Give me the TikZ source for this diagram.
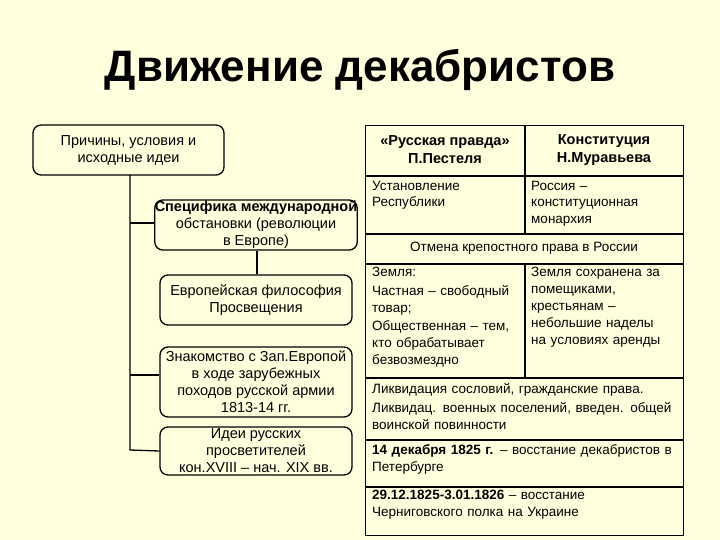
\documentclass[tikz,border=0pt]{standalone}
\usepackage{fontspec}
\setmainfont{Liberation Sans}
\definecolor{bg}{RGB}{255,255,221}
\begin{document}
\begin{tikzpicture}[x=1pt,y=-1pt,
  rbox/.style={draw,line width=1.3pt,rounded corners=8pt,fill=bg,align=center,inner sep=0pt,font=\fontsize{14.5}{17}\selectfont},
  cell/.style={align=left,anchor=north west,inner sep=0pt,font=\fontsize{13.5}{16.5}\selectfont,text width=#1},
  ln/.style={line width=1.3pt}]
\fill[bg] (0,0) rectangle (720,540);
\useasboundingbox (0,0) rectangle (720,540);
\node (title) at (360,70) {\fontsize{44}{50}\selectfont\bfseries Движение декабристов};
% left tree
\node[rbox,minimum width=191pt,minimum height=50pt] (c) at (128.5,150) {Причины, условия и\\исходные идеи};
\node[rbox,minimum width=192pt,minimum height=50pt] (b2) at (256,225) {\textbf{Специфика международной}\\обстановки (революции\\в Европе)};
\node[rbox,minimum width=192pt,minimum height=50pt] (b3) at (256,300) {Европейская философия\\Просвещения};
\node[rbox,minimum width=192pt,minimum height=70pt] (b4) at (256,382) {Знакомство с Зап.Европой\\в ходе зарубежных\\походов русской армии\\1813-14 гг.};
\node[rbox,minimum width=192pt,minimum height=48pt] (b5) at (256,451) {Идеи русских\\просветителей\\кон.XVIII – нач. XIX вв.};
\coordinate (t0) at (130,175);
\coordinate (t1) at (130,223);
\coordinate (t2) at (130,375);
\coordinate (t3) at (130,450);
\draw[ln] (t0) -- (t3) -- (b5.west);
\draw[ln] (t1) -- (b2.west|-t1);
\draw[ln] (t2) -- (b4.west|-t2);
\draw[ln] (b2.south-|257,0) -- (b3.north-|257,0);
% table
\node[draw,line width=1.3pt,minimum width=318pt,minimum height=410pt,anchor=north west,inner sep=0pt] (tab) at (365,125) {};
\draw[ln] (365,176) -- (683,176);
\draw[ln] (365,234) -- (683,234);
\draw[ln] (365,264) -- (683,264);
\draw[ln] (365,378) -- (683,378);
\draw[ln] (365,440) -- (683,440);
\draw[ln] (365,487) -- (683,487);
\draw[ln] (525,125) -- (525,234);
\draw[ln] (525,264) -- (525,378);
\node[align=center,font=\fontsize{14.5}{18}\selectfont\bfseries] (h1) at (445,150) {«Русская правда»\\П.Пестеля};
\node[align=center,font=\fontsize{14.5}{18}\selectfont\bfseries] (h2) at (604,150) {Конституция\\Н.Муравьева};
\node[cell=150pt] (r1a) at (372,181) {Установление\\Республики};
\node[cell=150pt] (r1b) at (531,181) {Россия –\\конституционная\\монархия};
\node[font=\fontsize{13.5}{16}\selectfont] (r2) at (524,248) {Отмена крепостного права в России};
\node[cell=152pt,font=\fontsize{13.5}{17}\selectfont] (r3a) at (372,267) {Земля:\\[1.5pt]Частная – свободный\\товар;\\[1.5pt]Общественная – тем,\\кто обрабатывает\\безвозмездно};
\node[cell=152pt,font=\fontsize{13.5}{17}\selectfont] (r3b) at (531,267) {Земля сохранена за\\помещиками,\\крестьянам –\\небольшие наделы\\на условиях аренды};
\node[cell=314pt,font=\fontsize{13.5}{17}\selectfont] (r4) at (372,383) {Ликвидация сословий, гражданские права.\\[2pt]Ликвидац. военных поселений, введен. общей\\воинской повинности};
\node[cell=314pt,font=\fontsize{13.5}{17}\selectfont] (r5) at (372,444) {\textbf{14 декабря 1825 г.} – восстание декабристов в\\Петербурге};
\node[cell=314pt,font=\fontsize{13.5}{17}\selectfont] (r6) at (372,490) {\textbf{29.12.1825-3.01.1826} – восстание\\Черниговского полка на Украине};
\end{tikzpicture}
\end{document}
